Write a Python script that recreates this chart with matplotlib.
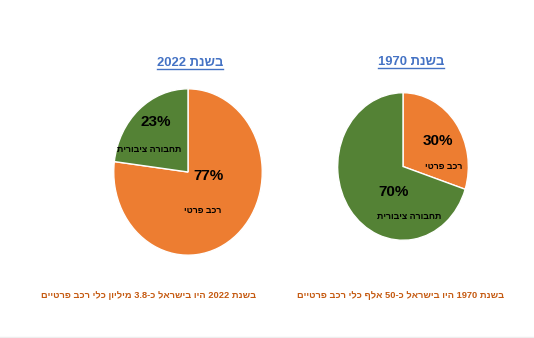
import re
import matplotlib
matplotlib.use("Agg")
import matplotlib.pyplot as plt

plt.rcParams['font.family'] = ['Liberation Sans', 'DejaVu Sans']

categories = ["רכב פרטי", "תחבורה ציבורית"]
values_2022 = [77, 23]
values_1970 = [30, 70]
titles = ["בשנת 2022", "בשנת 1970"]
captions = ["בשנת 2022 היו בישראל כ-3.8 מיליון כלי רכב פרטיים",
            "בשנת 1970 היו בישראל כ-50 אלף כלי רכב פרטיים"]
colors = ["#ED7D31", "#548235"]


def visual(s):
    """Convert logical RTL Hebrew text to visual (LTR) order for rendering."""
    tokens = s.split(" ")
    out = []
    for t in reversed(tokens):
        parts = re.findall(r"[0-9.,]+|[^0-9.,]+", t)
        rparts = []
        for p in reversed(parts):
            if re.match(r"[0-9.,]+$", p):
                rparts.append(p)
            else:
                rparts.append(p[::-1])
        out.append("".join(rparts))
    return " ".join(out)


fig = plt.figure(figsize=(5.34, 3.38), dpi=100)
fig.patch.set_facecolor("white")

W, H = 534, 338


def add_axes_px(x0, y0, x1, y1):
    return fig.add_axes([x0 / W, 1 - y1 / H, (x1 - x0) / W, (y1 - y0) / H])


axL = add_axes_px(113, 88, 263, 256)
axR = add_axes_px(337, 92, 469, 241)

for ax, vals, lab_pos in [
    (axL, values_2022, [((0.28, -0.05), (0.20, -0.46)), ((-0.44, 0.60), (-0.52, 0.27))]),
    (axR, values_1970, [((0.53, 0.34), (0.62, 0.0)), ((-0.14, -0.34), (0.10, -0.68))]),
]:
    ax.pie(vals, colors=colors, startangle=90, counterclock=False,
           wedgeprops=dict(edgecolor="white", linewidth=1.0))
    ax.set_aspect("auto")
    ax.set_xlim(-1.01, 1.01)
    ax.set_ylim(-1.01, 1.01)
    ax.axis("off")
    for i, ((px, py), (lx, ly)) in enumerate(lab_pos):
        ax.text(px, py, f"{vals[i]}%", ha="center", va="center",
                fontsize=11, fontweight="bold", color="black")
        ax.text(lx, ly, visual(categories[i]), ha="center", va="center",
                fontsize=6.3, fontweight="bold", color="black")

# Titles with underline
title_pos = [(190, 63), (411, 62)]
title_texts = []
for (x, y), t in zip(title_pos, titles):
    tt = fig.text(x / W, 1 - y / H, visual(t), ha="center", va="center",
                  fontsize=9.4, fontweight="bold", color="#4472C4")
    title_texts.append(tt)

fig.canvas.draw()
renderer = fig.canvas.get_renderer()
for tt in title_texts:
    bb = tt.get_window_extent(renderer=renderer)
    yline = (bb.y0 + 0.5) / H
    fig.add_artist(plt.Line2D([bb.x0 / W, bb.x1 / W], [yline, yline],
                              color="#4472C4", linewidth=1.0))

cap_pos = [(149, 295), (401, 295)]
for (x, y), c in zip(cap_pos, captions):
    fig.text(x / W, 1 - y / H, visual(c), ha="center", va="center",
             fontsize=6.7, fontweight="bold", color="#C55A11")

fig.add_artist(plt.Line2D([0, 1], [1 - 336.5 / H, 1 - 336.5 / H],
                          color="#EEEEEE", linewidth=1.0))

fig.savefig("out.png", dpi=100, facecolor="white")
